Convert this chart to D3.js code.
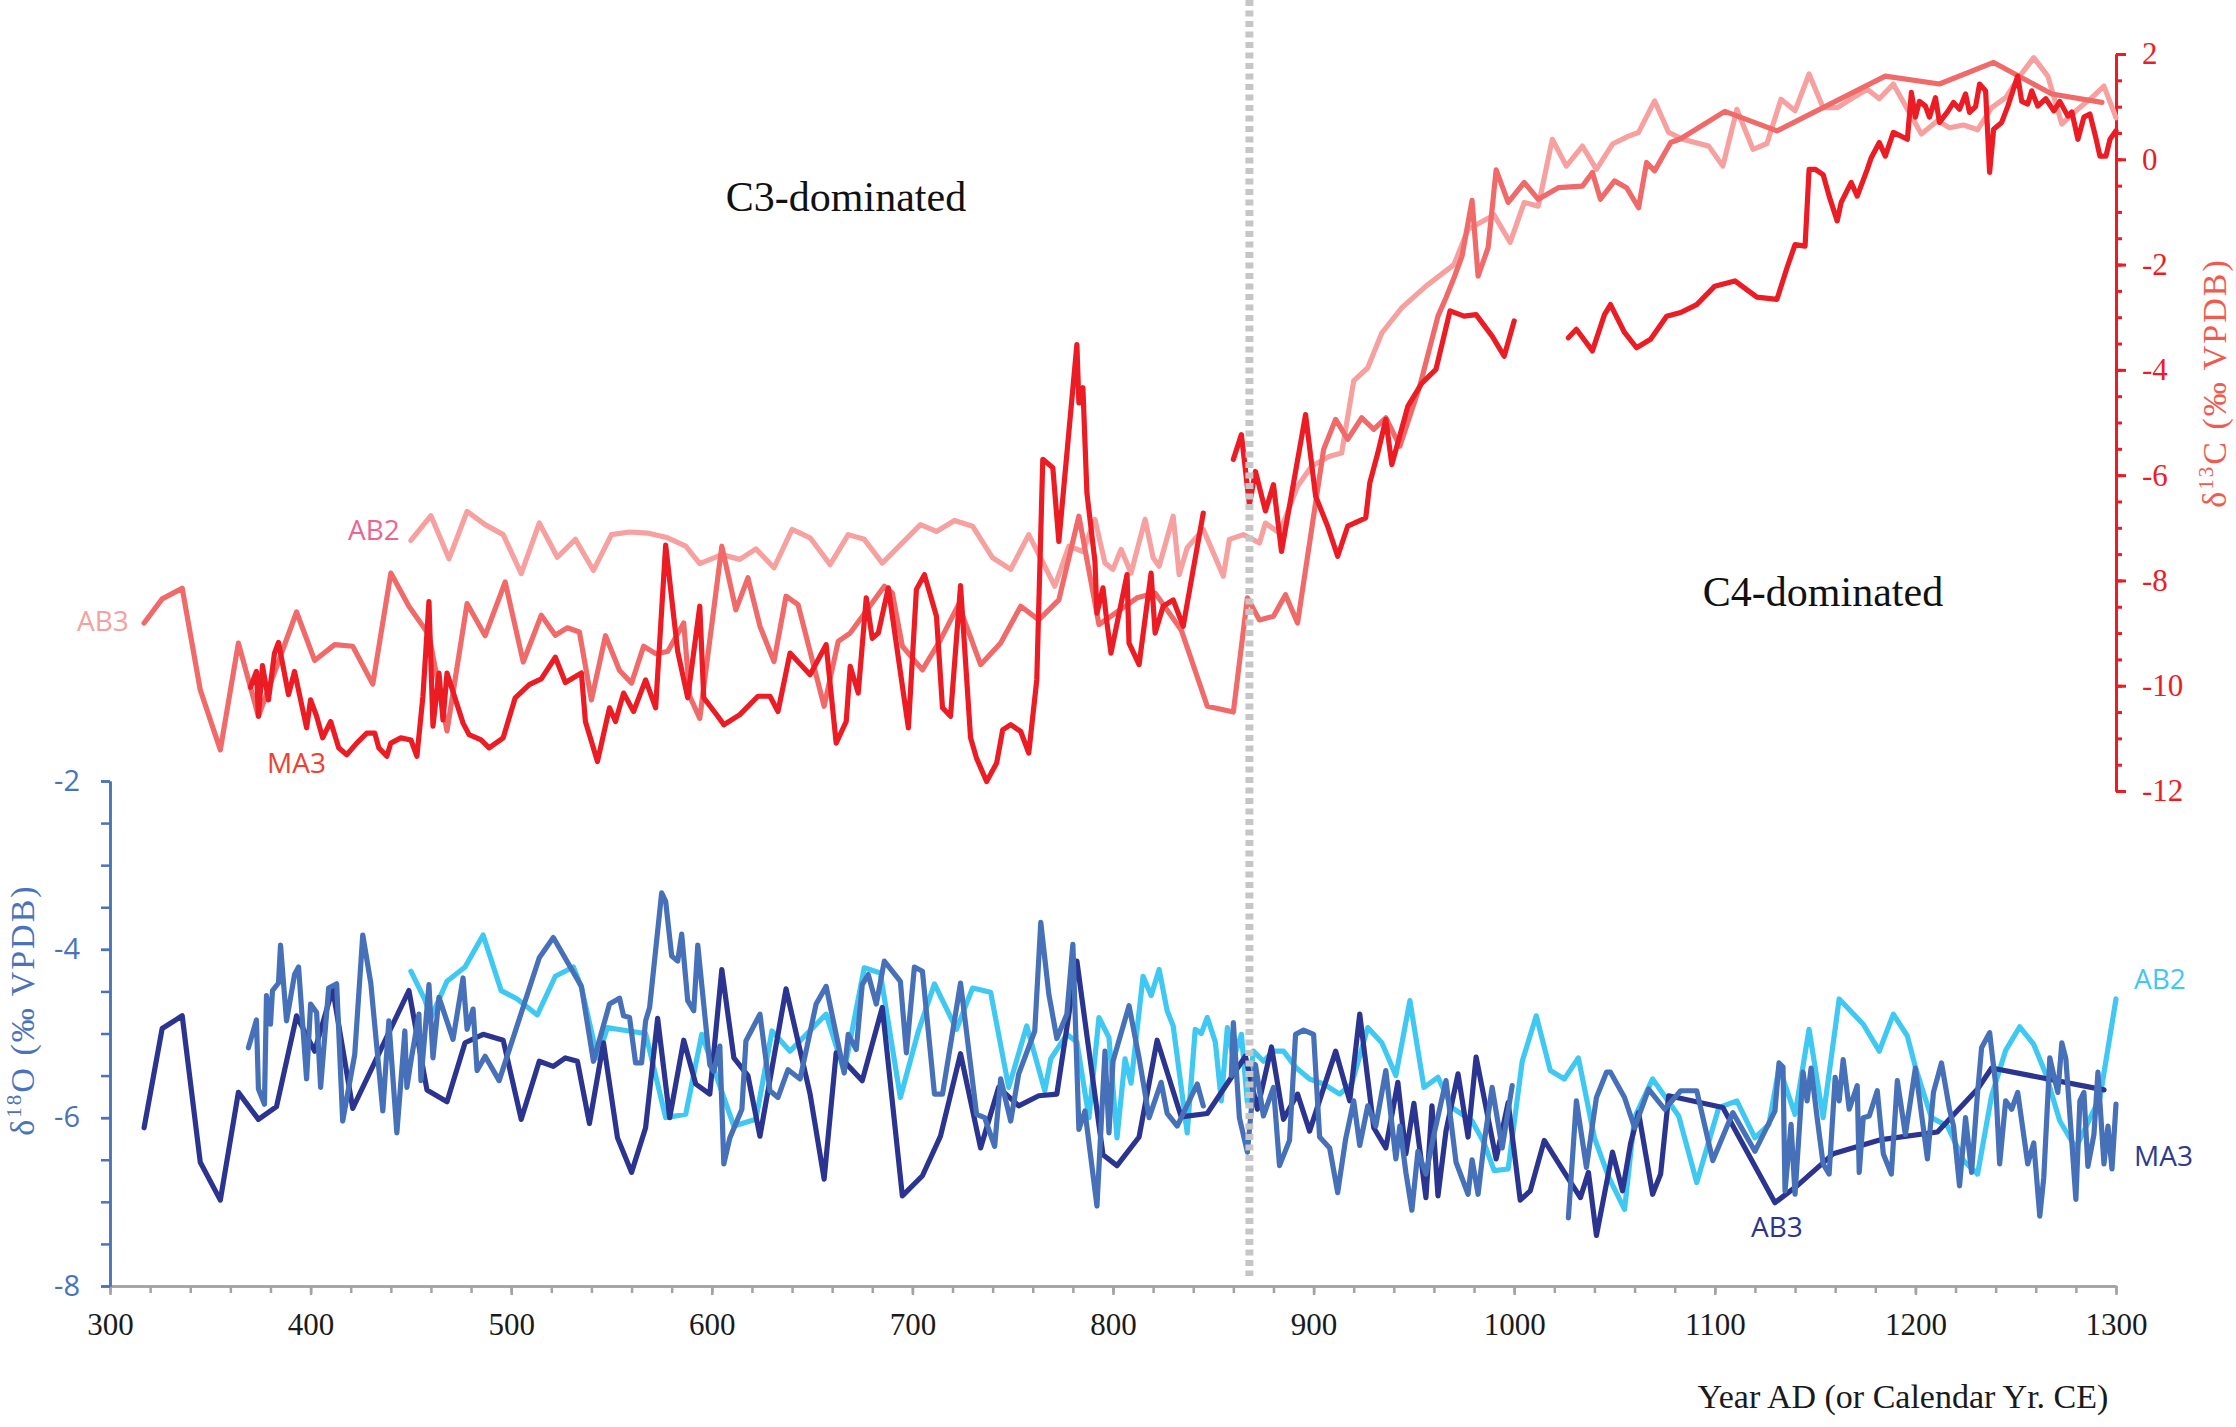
<!DOCTYPE html>
<html><head><meta charset="utf-8">
<script src="https://cdn.jsdelivr.net/npm/d3@7"></script>
<style>body{margin:0;background:#fff}svg{display:block}</style>
</head><body><svg id="c" width="2236" height="1427"></svg>
<script>
// ---------- DATA (year AD, per mil VPDB) ----------
const xTicksMajor = [300,400,500,600,700,800,900,1000,1100,1200,1300];
const yTicksO = [-8,-6,-4,-2];
const yTicksC = [-12,-10,-8,-6,-4,-2,0,2];
const boundaryYear = 868;

const d13C_AB2 = [[450,-7.24],[460,-6.77],[469,-7.59],[478,-6.69],[487,-6.94],[496,-7.13],[505,-7.87],[514,-6.91],[523,-7.56],[532,-7.22],[541,-7.81],[550,-7.13],[559,-7.08],[568,-7.1],[578,-7.19],[587,-7.35],[594,-7.68],[605,-7.51],[614,-7.6],[622,-7.4],[631,-7.76],[640,-7.03],[649,-7.19],[659,-7.7],[668,-7.13],[676,-7.22],[685,-7.67],[704,-6.94],[712,-7.07],[721,-6.86],[730,-6.97],[740,-7.57],[749,-7.79],[758,-7.13],[771,-8.11],[778,-7.35],[785,-7.45],[791,-6.84],[796,-7.67],[800,-7.79],[804,-7.41],[809,-7.86],[816,-6.84],[820,-7.57],[823,-7.73],[830,-6.78],[833,-7.89],[837,-7.38],[845,-7.03],[855,-7.92],[858,-7.22],[865,-7.13],[873,-7.29],[876,-6.91],[883,-7.1],[892,-6.21],[899,-5.83],[908,-5.64],[914,-5.58],[920,-4.21],[927,-3.96],[934,-3.3],[944,-2.82],[956,-2.41],[970,-2.0],[977,-1.33],[990,-1.06],[998,-1.58],[1005,-0.82],[1012,-0.89],[1019,0.38],[1026,-0.13],[1034,0.25],[1041,-0.19],[1049,0.29],[1057,0.44],[1062,0.51],[1070,1.11],[1077,0.51],[1084,0.38],[1097,0.25],[1104,-0.13],[1111,0.95],[1119,0.19],[1126,0.3],[1133,1.14],[1140,0.92],[1147,1.62],[1154,0.98],[1161,0.98],[1168,1.15],[1176,1.33],[1182,1.15],[1189,1.43],[1196,0.95],[1203,0.48],[1211,0.73],[1217,0.6],[1224,0.65],[1231,0.56],[1238,0.98],[1245,1.17],[1252,1.58],[1259,1.93],[1266,1.58],[1273,0.67],[1280,0.92],[1287,1.14],[1294,1.39],[1300,0.79]];

const d13C_AB3 = [[317,-8.81],[326,-8.35],[336,-8.15],[345,-10.08],[355,-11.22],[364,-9.19],[374,-10.58],[393,-8.6],[402,-9.52],[412,-9.22],[421,-9.25],[431,-9.97],[440,-7.86],[449,-8.49],[459,-9.03],[468,-10.86],[478,-8.44],[487,-9.05],[497,-8.03],[506,-9.55],[515,-8.66],[522,-9.04],[528,-8.9],[534,-8.98],[540,-10.27],[547,-9.05],[554,-9.71],[560,-9.95],[566,-9.25],[572,-9.39],[578,-9.35],[586,-8.81],[589,-10.2],[594,-10.62],[605,-7.35],[612,-8.56],[618,-7.95],[624,-8.87],[631,-9.54],[637,-8.3],[643,-8.46],[656,-10.39],[663,-9.16],[669,-9.0],[686,-8.11],[690,-8.24],[695,-9.25],[705,-9.7],[714,-9.13],[723,-8.46],[734,-9.6],[744,-9.19],[754,-8.49],[763,-8.75],[773,-8.37],[783,-6.78],[793,-8.84],[812,-8.33],[821,-8.24],[834,-8.94],[847,-10.39],[860,-10.5],[867,-8.33],[873,-8.75],[880,-8.68],[886,-8.27],[892,-8.81],[905,-5.51],[911,-4.94],[917,-5.32],[924,-4.91],[930,-5.13],[936,-4.91],[943,-5.45],[953,-4.3],[962,-2.98],[966,-2.63],[970,-2.25],[974,-1.84],[979,-0.78],[982,-2.22],[987,-1.68],[991,-0.2],[997,-0.82],[1005,-0.44],[1012,-0.76],[1022,-0.54],[1034,-0.51],[1039,-0.25],[1043,-0.76],[1050,-0.41],[1056,-0.54],[1062,-0.92],[1066,-0.06],[1070,-0.22],[1078,0.32],[1083,0.39],[1105,0.91],[1131,0.54],[1185,1.58],[1212,1.43],[1239,1.84],[1268,1.24],[1293,1.08]];

const d13C_MA3 = [[370,-10.03],[373,-9.73],[374,-10.58],[376,-9.62],[379,-10.27],[382,-9.38],[384,-9.18],[389,-10.17],[392,-9.73],[398,-10.8],[400,-10.27],[403,-10.58],[406,-10.99],[410,-10.68],[414,-11.18],[418,-11.31],[423,-11.09],[428,-10.9],[432,-10.9],[434,-11.18],[438,-11.34],[440,-11.09],[445,-10.99],[450,-11.03],[453,-11.34],[456,-10.2],[459,-8.4],[461,-10.77],[464,-9.76],[466,-10.65],[468,-9.76],[476,-10.71],[479,-10.93],[485,-11.03],[489,-11.18],[496,-10.99],[502,-10.23],[509,-9.98],[515,-9.87],[522,-9.46],[527,-9.94],[535,-9.76],[537,-10.68],[543,-11.44],[549,-10.42],[552,-10.68],[556,-10.14],[561,-10.49],[567,-9.89],[572,-10.42],[577,-7.33],[583,-9.35],[588,-10.23],[594,-8.49],[596,-10.23],[603,-10.58],[606,-10.74],[614,-10.55],[623,-10.2],[629,-10.2],[633,-10.49],[639,-9.38],[649,-9.79],[657,-9.22],[662,-11.09],[667,-10.68],[669,-9.63],[673,-10.14],[677,-8.33],[680,-9.1],[683,-9.0],[688,-8.14],[698,-10.8],[702,-8.17],[706,-7.89],[712,-8.68],[715,-10.42],[719,-10.58],[724,-8.1],[729,-10.99],[732,-11.38],[737,-11.82],[742,-11.47],[745,-10.84],[749,-10.74],[754,-10.87],[758,-11.28],[762,-9.89],[765,-5.7],[770,-5.86],[773,-7.26],[782,-3.52],[783,-4.63],[785,-4.34],[787,-6.34],[791,-7.64],[792,-8.62],[795,-8.14],[797,-8.81],[799,-9.38],[807,-7.89],[808,-9.19],[813,-9.6],[819,-7.86],[821,-9.0],[825,-8.49],[830,-8.37],[835,-8.87],[840,-7.79],[845,-6.72],[852,null],[860,-5.7],[864,-5.23],[868,-6.56],[871,-5.93],[876,-6.68],[880,-6.18],[884,-7.45],[896,-4.85],[901,-6.4],[907,-6.97],[912,-7.54],[917,-6.97],[926,-6.81],[928,-6.15],[932,-5.58],[936,-4.94],[939,-5.8],[947,-4.69],[954,-4.25],[961,-3.99],[968,-2.88],[975,-2.98],[981,-2.95],[989,-3.36],[995,-3.74],[1000,-3.07],[1014,null],[1027,-3.39],[1031,-3.23],[1039,-3.64],[1045,-2.95],[1048,-2.76],[1055,-3.29],[1061,-3.58],[1068,-3.42],[1076,-2.98],[1083,-2.91],[1091,-2.76],[1100,-2.41],[1110,-2.31],[1121,-2.62],[1131,-2.66],[1136,-2.06],[1140,-1.62],[1145,-1.65],[1147,-0.19],[1150,-0.19],[1154,-0.29],[1157,-0.7],[1161,-1.17],[1163,-0.82],[1168,-0.44],[1171,-0.7],[1176,-0.19],[1178,0.03],[1182,0.32],[1185,0.06],[1189,0.51],[1196,0.38],[1198,1.27],[1200,0.8],[1202,1.1],[1205,1.01],[1207,0.8],[1210,1.17],[1212,0.7],[1216,0.9],[1219,1.08],[1222,0.95],[1225,1.24],[1227,0.89],[1230,1.0],[1232,1.43],[1235,1.3],[1237,-0.25],[1239,0.57],[1243,0.7],[1246,1.0],[1251,1.58],[1253,1.1],[1256,1.05],[1258,1.3],[1261,1.01],[1265,1.15],[1269,0.92],[1272,1.1],[1276,0.82],[1278,0.9],[1281,0.38],[1284,0.8],[1287,0.86],[1290,0.4],[1292,0.06],[1295,0.06],[1297,0.38],[1300,0.54]];

const d18O_AB2 = [[450,-4.26],[457,-4.6],[460,-4.81],[468,-4.38],[477,-4.21],[486,-3.83],[495,-4.49],[503,-4.59],[513,-4.78],[522,-4.32],[531,-4.21],[535,-4.45],[543,-5.29],[548,-4.93],[553,-4.95],[567,-5.0],[577,-6.0],[587,-5.96],[595,-5.01],[611,-6.1],[622,-6.02],[630,-4.97],[639,-5.21],[657,-4.77],[666,-5.45],[676,-4.22],[684,-4.28],[694,-5.76],[703,-4.97],[711,-4.41],[722,-4.95],[730,-4.46],[739,-4.51],[748,-5.64],[757,-4.91],[766,-5.68],[769,-5.3],[777,-5.01],[782,-5.1],[788,-6.0],[793,-4.81],[798,-5.05],[802,-6.24],[806,-5.3],[809,-5.59],[815,-4.32],[819,-4.55],[823,-4.24],[827,-4.73],[830,-4.91],[837,-6.18],[841,-4.95],[844,-5.0],[847,-4.81],[851,-5.1],[854,-5.8],[857,-4.93],[860,-5.3],[864,-5.01],[867,-5.82],[870,-5.21],[875,-5.33],[880,-5.21],[885,-5.21],[891,-5.4],[898,-5.54],[905,-5.6],[913,-5.72],[919,-5.6],[927,-4.93],[934,-5.11],[941,-5.5],[948,-4.61],[955,-5.64],[962,-5.52],[969,-5.88],[979,-6.04],[985,-6.3],[990,-6.63],[997,-6.61],[1004,-5.33],[1011,-4.79],[1018,-5.44],[1025,-5.54],[1032,-5.29],[1040,-6.24],[1047,-6.7],[1055,-7.09],[1060,-6.0],[1069,-5.54],[1082,-5.98],[1091,-6.77],[1102,-5.88],[1111,-5.8],[1120,-6.24],[1127,-6.08],[1132,-5.4],[1140,-5.96],[1147,-4.95],[1154,-6.0],[1162,-4.59],[1174,-4.89],[1182,-5.21],[1189,-4.77],[1196,-5.03],[1200,-5.4],[1208,-6.0],[1216,-6.1],[1224,-6.51],[1231,-6.67],[1238,-5.74],[1245,-5.2],[1252,-4.92],[1259,-5.13],[1265,-5.48],[1272,-6.04],[1280,-6.36],[1292,-5.76],[1300,-4.59]];

const d18O_AB3 = [[317,-6.12],[326,-4.94],[336,-4.79],[345,-6.53],[355,-6.98],[364,-5.7],[374,-6.02],[383,-5.87],[393,-4.79],[402,-5.21],[411,-4.47],[421,-5.89],[449,-4.49],[458,-5.67],[468,-5.81],[477,-5.11],[486,-5.01],[496,-5.08],[505,-6.02],[514,-5.33],[521,-5.39],[527,-5.29],[533,-5.33],[539,-6.07],[546,-5.11],[553,-6.24],[560,-6.65],[567,-6.12],[573,-4.82],[579,-6.0],[586,-5.08],[592,-5.6],[599,-5.72],[605,-4.24],[611,-5.29],[618,-5.5],[624,-6.22],[637,-4.47],[649,-5.72],[656,-6.73],[662,-5.23],[675,-5.56],[685,-4.69],[695,-6.93],[705,-6.69],[714,-6.22],[724,-5.24],[734,-6.36],[743,-5.64],[753,-5.86],[763,-5.74],[772,-5.72],[782,-4.14],[795,-6.44],[802,-6.57],[813,-6.23],[822,-5.08],[834,-5.99],[847,-5.95],[866,-5.27],[872,-5.9],[879,-5.16],[885,-6.02],[892,-5.72],[898,-6.16],[911,-5.21],[918,-5.8],[923,-4.77],[930,-6.12],[936,-6.36],[942,-5.58],[946,-6.43],[950,-5.83],[956,-6.95],[959,-5.86],[962,-6.93],[966,-6.16],[972,-5.48],[977,-6.23],[981,-5.28],[991,-6.49],[997,-5.82],[1003,-6.98],[1008,-6.87],[1015,-6.27],[1025,-6.65],[1033,-6.95],[1037,-6.65],[1041,-7.4],[1049,-6.41],[1054,-6.87],[1058,-6.31],[1062,-5.94],[1069,-6.91],[1073,-6.67],[1077,-5.74],[1104,-5.88],[1130,-7.01],[1141,-6.81],[1159,-6.43],[1183,-6.26],[1211,-6.17],[1231,-5.66],[1238,-5.41],[1294,-5.67]];

const d18O_MA3 = [[369,-5.17],[373,-4.84],[374,-5.66],[377,-5.84],[378,-4.55],[380,-4.89],[381,-4.49],[384,-4.4],[385,-3.95],[388,-4.85],[392,-4.3],[394,-4.21],[398,-5.54],[400,-4.65],[403,-4.75],[405,-5.64],[409,-4.46],[413,-4.41],[416,-6.04],[422,-5.25],[426,-3.83],[430,-4.4],[436,-5.92],[439,-4.85],[443,-6.18],[447,-4.97],[448,-5.64],[450,-5.33],[454,-4.77],[455,-5.56],[459,-4.42],[461,-5.29],[464,-4.57],[471,-5.07],[476,-4.34],[478,-4.95],[481,-4.71],[483,-5.44],[487,-5.27],[494,-5.56],[514,-4.1],[521,-3.86],[535,-4.44],[541,-5.33],[549,-4.65],[554,-4.58],[556,-4.79],[559,-4.81],[562,-5.35],[565,-5.35],[567,-4.85],[569,-4.69],[575,-3.33],[577,-3.43],[580,-4.08],[583,-4.14],[585,-3.82],[588,-4.61],[591,-4.73],[593,-3.95],[599,-5.37],[601,-5.45],[604,-5.15],[606,-6.55],[609,-6.24],[615,-5.9],[617,-5.09],[624,-4.77],[629,-5.68],[633,-5.76],[638,-5.43],[644,-5.54],[652,-4.65],[657,-4.44],[666,-5.47],[668,-5.01],[672,-5.19],[675,-4.42],[678,-4.3],[682,-4.65],[686,-4.14],[694,-4.38],[697,-5.23],[701,-4.21],[705,-4.26],[711,-5.72],[715,-5.72],[724,-4.4],[732,-5.96],[736,-6.0],[741,-6.34],[744,-5.54],[749,-6.04],[753,-5.48],[761,-4.97],[764,-3.68],[768,-4.53],[772,-5.06],[777,-4.77],[780,-3.94],[783,-6.14],[786,-5.92],[792,-7.05],[796,-5.21],[798,-6.18],[800,-5.33],[808,-4.67],[813,-5.29],[818,-6.0],[824,-5.58],[827,-5.95],[832,-6.1],[842,-5.6],[845,-5.86],[852,null],[859,-5.5],[860,-4.87],[863,-6.0],[867,-6.41],[871,-5.37],[875,-5.98],[880,-5.64],[883,-6.57],[888,-6.27],[891,-5.01],[895,-4.96],[900,-5.01],[903,-6.23],[908,-6.36],[912,-6.89],[916,-6.25],[920,-5.8],[923,-6.33],[927,-5.86],[931,-6.1],[936,-5.44],[941,-6.49],[943,-6.1],[946,-6.65],[949,-7.1],[952,-6.4],[956,-6.67],[960,-6.2],[966,-5.56],[971,-6.53],[977,-6.91],[979,-6.5],[982,-6.91],[985,-6.3],[989,-5.64],[994,-6.36],[999,-5.62],[1013,null],[1027,-7.19],[1031,-5.8],[1036,-6.59],[1041,-5.76],[1046,-5.46],[1048,-5.46],[1055,-5.76],[1060,-6.12],[1067,-5.66],[1075,-5.9],[1083,-5.68],[1091,-5.68],[1099,-6.51],[1109,-5.94],[1120,-6.4],[1130,-5.92],[1132,-5.35],[1134,-5.4],[1135,-6.87],[1138,-6.08],[1140,-6.91],[1144,-5.46],[1146,-5.8],[1148,-5.41],[1151,-6.0],[1154,-6.55],[1157,-6.67],[1160,-5.52],[1162,-5.8],[1164,-5.31],[1167,-5.9],[1171,-5.62],[1172,-6.65],[1174,-6.0],[1177,-5.98],[1181,-5.68],[1184,-6.43],[1188,-6.67],[1191,-5.56],[1195,-6.2],[1200,-5.41],[1206,-6.49],[1209,-5.7],[1213,-5.35],[1217,-5.9],[1219,-6.1],[1222,-6.81],[1225,-6.0],[1228,-6.65],[1231,-5.7],[1233,-5.17],[1237,-4.99],[1240,-5.6],[1242,-6.55],[1245,-5.8],[1248,-5.9],[1251,-5.7],[1256,-6.55],[1259,-6.3],[1262,-7.17],[1264,-6.71],[1267,-5.29],[1269,-5.5],[1271,-5.7],[1273,-5.11],[1275,-5.3],[1278,-6.3],[1280,-6.97],[1282,-5.8],[1284,-5.7],[1286,-6.58],[1289,-6.2],[1291,-5.46],[1294,-6.55],[1296,-6.1],[1298,-6.61],[1300,-5.84]];

// ---------- CHART ----------
const svg = d3.select('#c');
const x = d3.scaleLinear().domain([300,1300]).range([110,2116]);
const yC = d3.scaleLinear().domain([-12,2]).range([791,54]);
const yO = d3.scaleLinear().domain([-8,-2]).range([1286,781]);
const serif = "'Liberation Serif','Times New Roman',serif";
const sans = "'Open Sans','Noto Sans',sans-serif";
const fmt = d => String(d);

function styleAxis(g, color, w){
  g.select('.domain').attr('stroke',color).attr('stroke-width',w);
  g.selectAll('.tick line').attr('stroke',color).attr('stroke-width',w);
}

// X axis
const gxm = svg.append('g').attr('transform','translate(0,1286)')
  .call(d3.axisBottom(x).tickValues(d3.range(300,1301,20)).tickSize(7).tickSizeOuter(0).tickFormat(''));
styleAxis(gxm,'#a3a3a3',2.5);
const gx = svg.append('g').attr('transform','translate(0,1286)')
  .call(d3.axisBottom(x).tickValues(xTicksMajor).tickSize(9).tickSizeOuter(0).tickPadding(18).tickFormat(fmt));
styleAxis(gx,'#a3a3a3',2.5);
gx.selectAll('text').attr('font-family',serif).attr('font-size',31).attr('fill','#1a1a1a');

// Left axis (d18O)
const blue = '#4a73b9';
const gom = svg.append('g').attr('transform','translate(110,0)')
  .call(d3.axisLeft(yO).tickValues(d3.range(-8,-1.99,0.5)).tickSize(9).tickSizeOuter(0).tickFormat(''));
styleAxis(gom,blue,2.5);
const go = svg.append('g').attr('transform','translate(110,0)')
  .call(d3.axisLeft(yO).tickValues(yTicksO).tickSize(9).tickSizeOuter(0).tickPadding(21).tickFormat(fmt));
styleAxis(go,blue,2.5);
go.selectAll('text').attr('font-family',sans).attr('font-size',29).attr('fill',blue);

// Right axis (d13C)
const red = '#ed1c24';
const gcm = svg.append('g').attr('transform','translate(2116,0)')
  .call(d3.axisRight(yC).tickValues(d3.range(-12,2.01,0.5)).tickSize(6).tickSizeOuter(0).tickFormat(''));
styleAxis(gcm,red,3);
const gc = svg.append('g').attr('transform','translate(2116,0)')
  .call(d3.axisRight(yC).tickValues(yTicksC).tickSize(10).tickSizeOuter(0).tickPadding(16).tickFormat(fmt));
styleAxis(gc,red,3);
gc.selectAll('text').attr('font-family',serif).attr('font-size',31).attr('fill',red);

// Axis titles
const lt = svg.append('text').attr('transform','translate(34,1010) rotate(-90)')
  .attr('text-anchor','middle').attr('font-family',serif).attr('font-size',34)
  .attr('letter-spacing',2).attr('fill',blue);
lt.append('tspan').text('δ');
lt.append('tspan').attr('font-size',21).attr('dy',-13).text('18');
lt.append('tspan').attr('dy',13).text('O (‰ VPDB)');

const rt = svg.append('text').attr('transform','translate(2226,383) rotate(-90)')
  .attr('text-anchor','middle').attr('font-family',serif).attr('font-size',34)
  .attr('letter-spacing',2).attr('fill','#f15a4f');
rt.append('tspan').text('δ');
rt.append('tspan').attr('font-size',21).attr('dy',-13).text('13');
rt.append('tspan').attr('dy',13).text('C (‰ VPDB)');

svg.append('text').attr('x',1903).attr('y',1408).attr('text-anchor','middle')
  .attr('font-family',serif).attr('font-size',34).attr('fill','#1a1a1a').text('Year AD (or Calendar Yr. CE)');

// Lines
const lineC = d3.line().defined(d => d[1] !== null).x(d => x(d[0])).y(d => yC(d[1]));
const lineO = d3.line().defined(d => d[1] !== null).x(d => x(d[0])).y(d => yO(d[1]));
function draw(data, gen, color, w){
  svg.append('path').datum(data).attr('d',gen).attr('fill','none')
    .attr('stroke',color).attr('stroke-width',w).attr('stroke-linejoin','round').attr('stroke-linecap','round');
}
draw(d18O_AB2, lineO, '#3ec8f2', 5.2);
draw(d18O_AB3, lineO, '#2b3590', 5.2);
draw(d18O_MA3, lineO, '#4670b8', 5.2);
draw(d13C_AB2, lineC, '#f6a09f', 5.2);
draw(d13C_AB3, lineC, '#f06a6a', 5.2);
draw(d13C_MA3, lineC, '#ec1c24', 5.2);

// Boundary line
svg.append('line').attr('x1',x(boundaryYear)).attr('x2',x(boundaryYear)).attr('y1',0).attr('y2',1276)
  .attr('stroke','#c6c6c6').attr('stroke-width',8).attr('stroke-dasharray','6 4.5');

// Annotations
svg.append('text').attr('x',846).attr('y',211).attr('text-anchor','middle')
  .attr('font-family',serif).attr('font-size',42).attr('fill','#111').text('C3-dominated');
svg.append('text').attr('x',1823).attr('y',606).attr('text-anchor','middle')
  .attr('font-family',serif).attr('font-size',42).attr('fill','#111').text('C4-dominated');

const labels = [
  {t:'AB2', x:348, y:540, c:'#ec6593'},
  {t:'AB3', x:77, y:631, c:'#f5a19d'},
  {t:'MA3', x:267, y:773, c:'#ef4030'},
  {t:'AB2', x:2134, y:989, c:'#3ec8f2'},
  {t:'MA3', x:2134, y:1166, c:'#2e3a8f'},
  {t:'AB3', x:1751, y:1237, c:'#2b3590'}
];
svg.selectAll('text.lab').data(labels).enter().append('text').attr('class','lab')
  .attr('x',d=>d.x).attr('y',d=>d.y).attr('font-family',sans).attr('font-size',28)
  .attr('fill',d=>d.c).text(d=>d.t);
</script></body></html>
